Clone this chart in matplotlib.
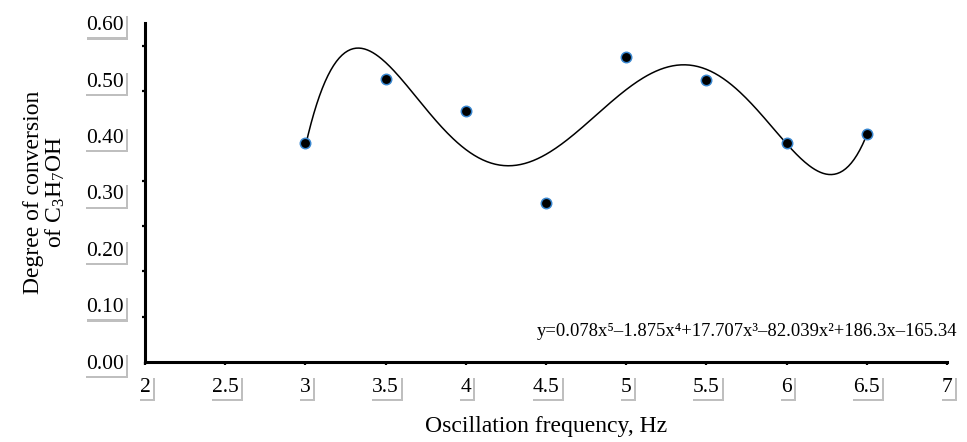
import numpy as np
import matplotlib
matplotlib.use("Agg")
import matplotlib.pyplot as plt
import matplotlib.patheffects as pe
from matplotlib.ticker import FixedLocator

plt.rcParams['font.family'] = ['Liberation Serif', 'DejaVu Serif']
plt.rcParams['mathtext.fontset'] = 'custom'
plt.rcParams['mathtext.rm'] = 'Liberation Serif'
plt.rcParams['mathtext.it'] = 'Liberation Serif:italic'

# Data
freq = [3.0, 3.5, 4.0, 4.5, 5.0, 5.5, 6.0, 6.5]
conversion = [0.387, 0.502, 0.445, 0.281, 0.541, 0.500, 0.387, 0.403]
y_tick_labels = ["0.00", "0.10", "0.20", "0.30", "0.40", "0.50", "0.60"]
x_tick_labels = ["2", "2.5", "3", "3.5", "4", "4.5", "5", "5.5", "6", "6.5", "7"]
equation = "y=0.078x⁵–1.875x⁴+17.707x³–82.039x²+186.3x–165.34"

TICK_FS = 15.5
LABEL_FS = 17
EQ_FS = 13.4

fig = plt.figure(figsize=(9.67, 4.42), dpi=100)
ax = fig.add_axes([0.15, 0.1817, 0.8293, 0.7656])

# trendline: 5th-degree polynomial fit
coef = np.polyfit(freq, conversion, 5)
xs = np.linspace(min(freq), max(freq), 400)
ax.plot(xs, np.polyval(coef, xs), color='black', lw=1.1, zorder=2)
ax.plot(freq, conversion, 'o', ms=7.5, mfc='black', mec='#3a87d0',
        mew=1.1, zorder=3, clip_on=False)

ax.set_xlim(2, 7)
ax.set_ylim(0, 0.6)

for s in ['top', 'right']:
    ax.spines[s].set_visible(False)
for s in ['left', 'bottom']:
    ax.spines[s].set_linewidth(2.2)
    ax.spines[s].set_capstyle('projecting')

ax.set_xticks(np.arange(2, 7.01, 0.5))
ax.set_xticklabels(x_tick_labels)
ax.set_yticks(np.arange(0, 0.601, 0.1))
ax.set_yticklabels(y_tick_labels)
ax.yaxis.set_minor_locator(FixedLocator(np.arange(0, 0.57, 0.08)))

ax.tick_params(axis='x', which='major', direction='out', length=2.5,
               width=1.6, labelsize=TICK_FS, pad=9)
ax.tick_params(axis='y', which='major', length=0, labelsize=TICK_FS, pad=15)
ax.tick_params(axis='y', which='minor', direction='out', length=2.5,
               width=1.6)

shadow = [pe.SimplePatchShadow(offset=(1.5, -1.5), shadow_rgbFace='0.5',
                               alpha=0.5), pe.Normal()]
for lab in ax.get_xticklabels() + ax.get_yticklabels():
    lab.set_bbox(dict(boxstyle='square,pad=0.1', fc='white', ec='none'))
    lab.get_bbox_patch().set_path_effects(shadow)

ax.set_xlabel("Oscillation frequency, Hz", fontsize=LABEL_FS, labelpad=14)
ax.set_ylabel("Degree of conversion\nof C$_{3}$H$_{7}$OH", fontsize=LABEL_FS,
              labelpad=14, linespacing=1.0)

ax.text(4.44, 0.053, equation, fontsize=EQ_FS, ha='left', va='center',
        transform=ax.transData, clip_on=False)

fig.savefig("out.png", dpi=100)
